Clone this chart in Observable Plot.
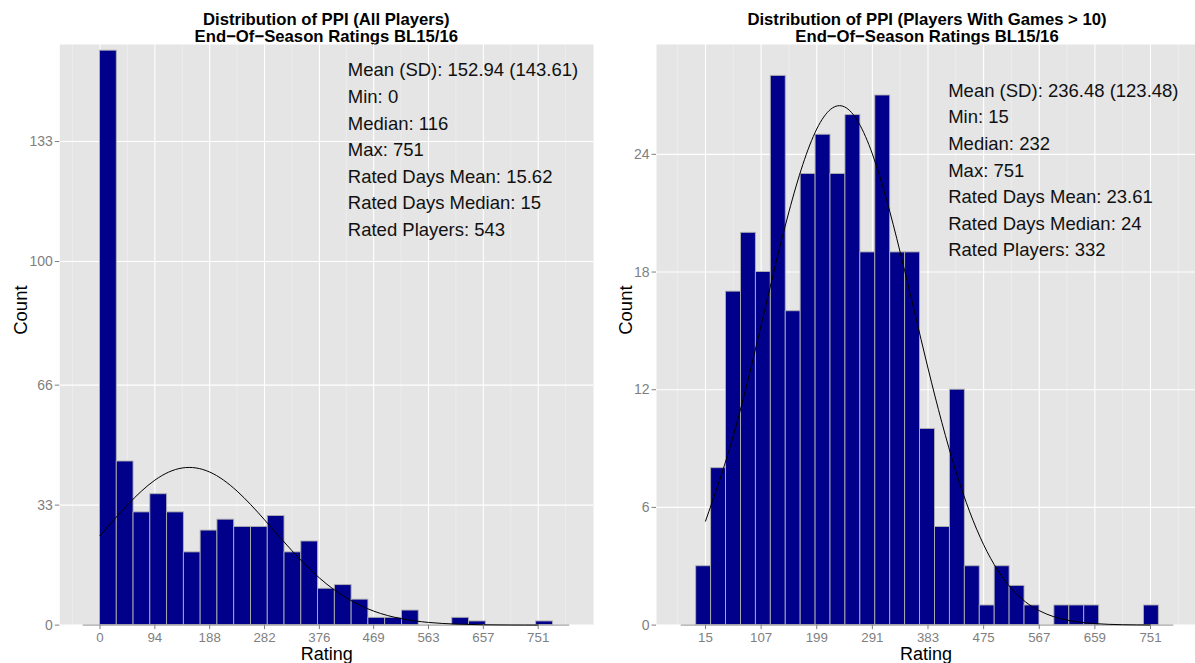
<!DOCTYPE html>
<html><head><meta charset="utf-8">
<script src="https://cdn.jsdelivr.net/npm/d3@7"></script>
<script src="https://cdn.jsdelivr.net/npm/@observablehq/plot@0.6"></script>
<style>
html,body{margin:0;padding:0;background:#fff;}
#root{position:relative;width:1195px;height:663px;overflow:hidden;font-family:"Liberation Sans",Arial,Helvetica,sans-serif;}
.title{position:absolute;top:10.7px;text-align:center;font-weight:bold;font-size:16.7px;line-height:17px;color:#000;white-space:nowrap;}
</style></head><body>
<div id="root">
  <div class="title" style="left:26.3px;width:600px;">Distribution of PPI (All Players)<br>End−Of−Season Ratings BL15/16</div>
  <div class="title" style="left:659px;width:536px;">Distribution of PPI (Players With Games &gt; 10)<br>End−Of−Season Ratings BL15/16</div>
</div>
<script>
// ---------- data: left panel (all players) ----------
const leftCounts = [158,45,31,36,31,20,26,29,27,27,30,20,23,10,11,7,2,2,4,0,0,2,1,0,0,0,1];
const leftBinStart = 0;
const leftBinWidth = 28.75;
const leftXTicks = [0,94,188,282,376,469,563,657,751];
const leftMinorX = [-47,47,141,235,329,422,516,610,704,798];
const leftYTicks = [0,33,66,100,133];
const leftCurveX = [0,47,94,141,188,235,282,329,376,422,469,516,563,610,657,704,751];
const leftCurveY = [24.60,33.04,39.87,43.22,42.10,36.84,28.96,20.46,12.98,7.50,3.85,1.78,0.736,0.274,0.0917,0.0276,0.0074];
const leftStats = ["Mean (SD): 152.94 (143.61)","Min: 0","Median: 116","Max: 751","Rated Days Mean: 15.62","Rated Days Median: 15","Rated Players: 543"];

// ---------- data: right panel (players with games > 10) ----------
const rightCounts = [3,8,17,20,18,28,16,23,25,23,26,19,27,19,19,10,5,12,3,1,3,2,1,0,1,1,1,0,0,0,1];
const rightBinStart = -0.4;
const rightBinWidth = 24.685;
const rightXTicks = [15,107,199,291,383,475,567,659,751];
const rightMinorX = [-31,61,153,245,337,429,521,613,705,797];
const rightYTicks = [0,6,12,18,24];
const rightCurveX = [15,61,107,153,199,245,291,337,383,429,475,521,567,613,659,705,751];
const rightCurveY = [5.30,9.65,15.28,21.07,25.29,26.42,24.02,19.01,13.10,7.85,4.10,1.86,0.736,0.253,0.0760,0.0198,0.0045];
const rightStats = ["Mean (SD): 236.48 (123.48)","Min: 15","Median: 232","Max: 751","Rated Days Mean: 23.61","Rated Days Median: 24","Rated Players: 332"];

const FONT = "Liberation Sans, Arial, Helvetica, sans-serif";

function panel(cfg) {
  const bins = cfg.counts.map((c, i) => ({
    x1: cfg.binStart + i * cfg.binWidth,
    x2: cfg.binStart + (i + 1) * cfg.binWidth,
    count: c
  }));
  const curve = cfg.curveX.map((x, i) => ({x, y: cfg.curveY[i]}));
  const baseline = [{
    x1: cfg.binStart - cfg.binWidth,
    x2: cfg.binStart + (cfg.counts.length + 1) * cfg.binWidth
  }];
  return Plot.plot({
    width: cfg.width,
    height: 663,
    marginTop: 44,
    marginBottom: 38.4,
    marginLeft: cfg.marginLeft,
    marginRight: cfg.marginRight,
    x: {domain: cfg.xDomain},
    y: {domain: cfg.yDomain},
    style: {fontFamily: FONT, fontSize: "13.5px", background: "transparent", position: "absolute", left: cfg.left + "px", top: "0px", overflow: "visible"},
    marks: [
      Plot.frame({fill: "#E5E5E5", stroke: null}),
      Plot.gridX(cfg.minorX, {stroke: "#F2F2F2", strokeOpacity: 1, strokeWidth: 0.6}),
      Plot.gridX(cfg.xTicks, {stroke: "#FFFFFF", strokeOpacity: 1, strokeWidth: 1.1}),
      Plot.gridY(cfg.yTicks, {stroke: "#FFFFFF", strokeOpacity: 1, strokeWidth: 1.1}),
      Plot.ruleY(baseline, {y: 0, x1: "x1", x2: "x2", stroke: "#BDBDBD", strokeWidth: 1.6}),
      Plot.rectY(bins.filter(d => d.count > 0), {x1: "x1", x2: "x2", y1: 0, y2: "count", fill: "#00008B", stroke: "#B0B0B0", strokeWidth: 0.9}),
      Plot.line(curve, {x: "x", y: "y", curve: "natural", stroke: "#000", strokeWidth: 1}),
      Plot.text([cfg.stats.join("\n")], {text: d => d, x: cfg.textX, y: cfg.textY, textAnchor: "start", lineAnchor: "top", lineHeight: 1.438, fontSize: 18.5, fill: "#111"}),
      Plot.axisX(cfg.xTicks, {tickSize: 4.5, tickPadding: 2.5, stroke: "#7F7F7F", fill: "#7F7F7F", fontSize: 13.3, label: null, tickFormat: d => String(d)}),
      Plot.axisY(cfg.yTicks, {tickSize: 4.5, tickPadding: 2.5, stroke: "#7F7F7F", fill: "#7F7F7F", fontSize: 14, label: null, tickFormat: d => String(d)}),
      Plot.text(["Count"], {text: d => d, frameAnchor: "left", rotate: -90, lineAnchor: "top", dx: -cfg.countOffset, fontSize: 18.5, fill: "#000"}),
      Plot.text(["Rating"], {text: d => d, frameAnchor: "bottom", lineAnchor: "bottom", dy: 35, fontSize: 18, fill: "#000"})
    ]
  });
}

const root = document.getElementById("root");
root.appendChild(panel({
  counts: leftCounts, binStart: leftBinStart, binWidth: leftBinWidth,
  xTicks: leftXTicks, minorX: leftMinorX, yTicks: leftYTicks,
  curveX: leftCurveX, curveY: leftCurveY, stats: leftStats,
  width: 597, left: 0, marginLeft: 59.3, marginRight: 4,
  xDomain: [-68.9, 845.8], yDomain: [0, 159.7],
  textX: 424.7, textY: 156.1, countOffset: 45.8
}));
root.appendChild(panel({
  counts: rightCounts, binStart: rightBinStart, binWidth: rightBinWidth,
  xTicks: rightXTicks, minorX: rightMinorX, yTicks: rightYTicks,
  curveX: rightCurveX, curveY: rightCurveY, stats: rightStats,
  width: 598, left: 597, marginLeft: 59, marginRight: 0,
  xDomain: [-66.05, 825.45], yDomain: [0, 29.6],
  textX: 416.4, textY: 27.9, countOffset: 37.5
}));
</script>
</body></html>
